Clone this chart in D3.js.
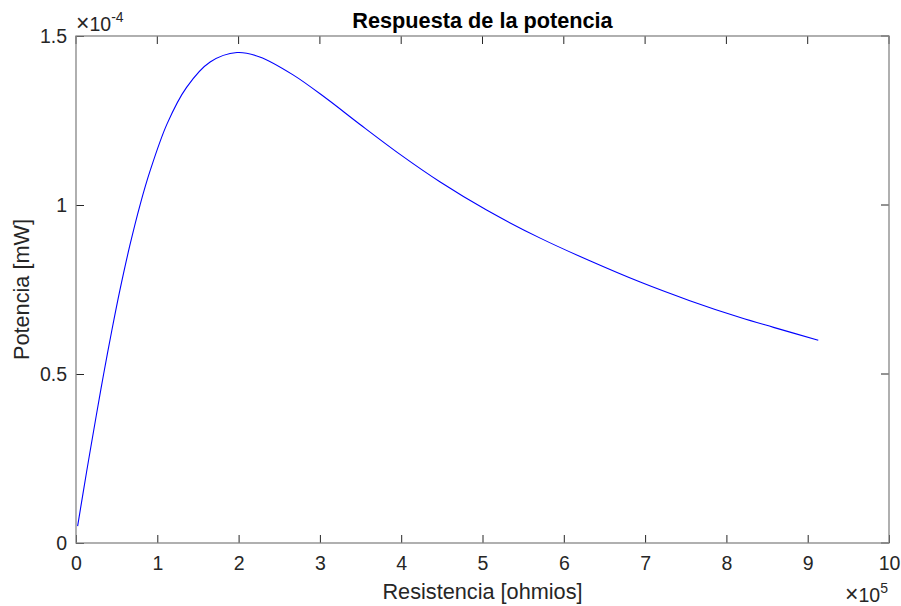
<!DOCTYPE html>
<html>
<head>
<meta charset="utf-8">
<script src="https://cdn.jsdelivr.net/npm/d3@7"></script>
<style>
  body { margin: 0; background: #fff; }
  svg { display: block; font-family: "Liberation Sans", Arial, Helvetica, sans-serif; }
</style>
</head>
<body>
<div id="chart"></div>
<script>
// Resistencia [ohmios] and Potencia [mW]
const resistencia = [
  2000, 13000, 25000, 34000, 44000, 54000, 66000, 79000, 91000,
  112000, 136000, 165000, 198000, 226000, 267000, 308000,
  349000, 399000, 448000, 505000, 571000, 632000, 694000, 755000,
  817000, 858000, 913000
];
const potencia = [
  0.05e-4, 0.21e-4, 0.378e-4, 0.50e-4, 0.628e-4, 0.748e-4, 0.878e-4, 1.002e-4, 1.10e-4,
  1.24e-4, 1.348e-4, 1.423e-4, 1.451e-4, 1.438e-4, 1.385e-4, 1.315e-4,
  1.239e-4, 1.149e-4, 1.068e-4, 0.985e-4, 0.902e-4, 0.835e-4, 0.772e-4, 0.717e-4,
  0.667e-4, 0.638e-4, 0.60e-4
];
const xTicks = d3.range(0, 11).map(d => d * 1e5);
const yTicks = [0, 0.5e-4, 1e-4, 1.5e-4];

const titleText = "Respuesta de la potencia";
const xLabelText = "Resistencia [ohmios]";
const yLabelText = "Potencia [mW]";

const width = 901;
const height = 606;
const margin = { top: 36, right: 12, bottom: 63, left: 76 };

const data = resistencia.map((r, i) => ({ r, p: potencia[i] }));

const svg = d3.select("#chart").append("svg")
  .attr("width", width)
  .attr("height", height)
  .attr("viewBox", [0, 0, width, height]);

const x = d3.scaleLinear()
  .domain([0, 1e6])
  .range([margin.left, width - margin.right]);

const y = d3.scaleLinear()
  .domain([0, 1.5e-4])
  .range([height - margin.bottom, margin.top]);

const tickColor = "#262626";
const boxColor = "#868686";
const tickLen = 8;
const tickFont = "19.5px";
const labelFont = "21.7px";

// Bottom axis (ticks inward)
const xAxis = svg.append("g")
  .attr("transform", `translate(0,${y(0)})`)
  .call(d3.axisBottom(x).tickValues(xTicks).tickSizeInner(-tickLen).tickSizeOuter(0)
    .tickPadding(13).tickFormat(d => d / 1e5));
xAxis.select(".domain").remove();
xAxis.selectAll("line").attr("stroke", tickColor);
xAxis.selectAll("text").attr("fill", tickColor).style("font-size", tickFont);

// Top mirror ticks
svg.append("g")
  .selectAll("line")
  .data(xTicks)
  .join("line")
  .attr("x1", d => x(d)).attr("x2", d => x(d))
  .attr("y1", y.range()[1]).attr("y2", y.range()[1] + tickLen)
  .attr("stroke", tickColor);

// Left axis
const yAxis = svg.append("g")
  .attr("transform", `translate(${x(0)},0)`)
  .call(d3.axisLeft(y).tickValues(yTicks).tickSizeInner(-tickLen).tickSizeOuter(0)
    .tickPadding(9).tickFormat(d => +(d / 1e-4).toFixed(1)));
yAxis.select(".domain").remove();
yAxis.selectAll("line").attr("stroke", tickColor);
yAxis.selectAll("text").attr("fill", tickColor).style("font-size", tickFont);

// Right mirror ticks
svg.append("g")
  .selectAll("line")
  .data(yTicks)
  .join("line")
  .attr("x1", x.range()[1]).attr("x2", x.range()[1] - tickLen)
  .attr("y1", d => y(d)).attr("y2", d => y(d))
  .attr("stroke", tickColor);

// Box
svg.append("rect")
  .attr("x", x.range()[0])
  .attr("y", y.range()[1])
  .attr("width", x.range()[1] - x.range()[0])
  .attr("height", y.range()[0] - y.range()[1])
  .attr("fill", "none")
  .attr("stroke", boxColor)
  .attr("stroke-width", 1.3);

// Curve
const line = d3.line()
  .x(d => x(d.r))
  .y(d => y(d.p))
  .curve(d3.curveCatmullRom.alpha(0.5));

svg.append("path")
  .datum(data)
  .attr("fill", "none")
  .attr("stroke", "#0000ff")
  .attr("stroke-width", 1.1)
  .attr("d", line);

// Exponent labels
function expLabel(xPos, yPos, anchor, exp) {
  const t = svg.append("text")
    .attr("x", xPos)
    .attr("y", yPos)
    .attr("text-anchor", anchor)
    .attr("fill", tickColor)
    .style("font-size", tickFont);
  t.append("tspan").style("font-size", "23px").text("\u00d7");
  t.append("tspan").text("10");
  t.append("tspan").attr("dy", -9).style("font-size", "14px").text(exp);
}
expLabel(x.range()[0], y.range()[1] - 5, "start", "-4");
expLabel(x.range()[1] - 1, 602, "end", "5");

// Title
svg.append("text")
  .attr("x", (x.range()[0] + x.range()[1]) / 2)
  .attr("y", 28)
  .attr("text-anchor", "middle")
  .style("font-weight", "bold")
  .style("font-size", labelFont)
  .attr("fill", "#000")
  .text(titleText);

// Axis labels
svg.append("text")
  .attr("x", (x.range()[0] + x.range()[1]) / 2)
  .attr("y", 599)
  .attr("text-anchor", "middle")
  .style("font-size", labelFont)
  .attr("fill", tickColor)
  .text(xLabelText);

svg.append("text")
  .attr("transform", `translate(29,${(y.range()[0] + y.range()[1]) / 2}) rotate(-90)`)
  .attr("text-anchor", "middle")
  .style("font-size", labelFont)
  .attr("fill", tickColor)
  .text(yLabelText);
</script>
</body>
</html>
